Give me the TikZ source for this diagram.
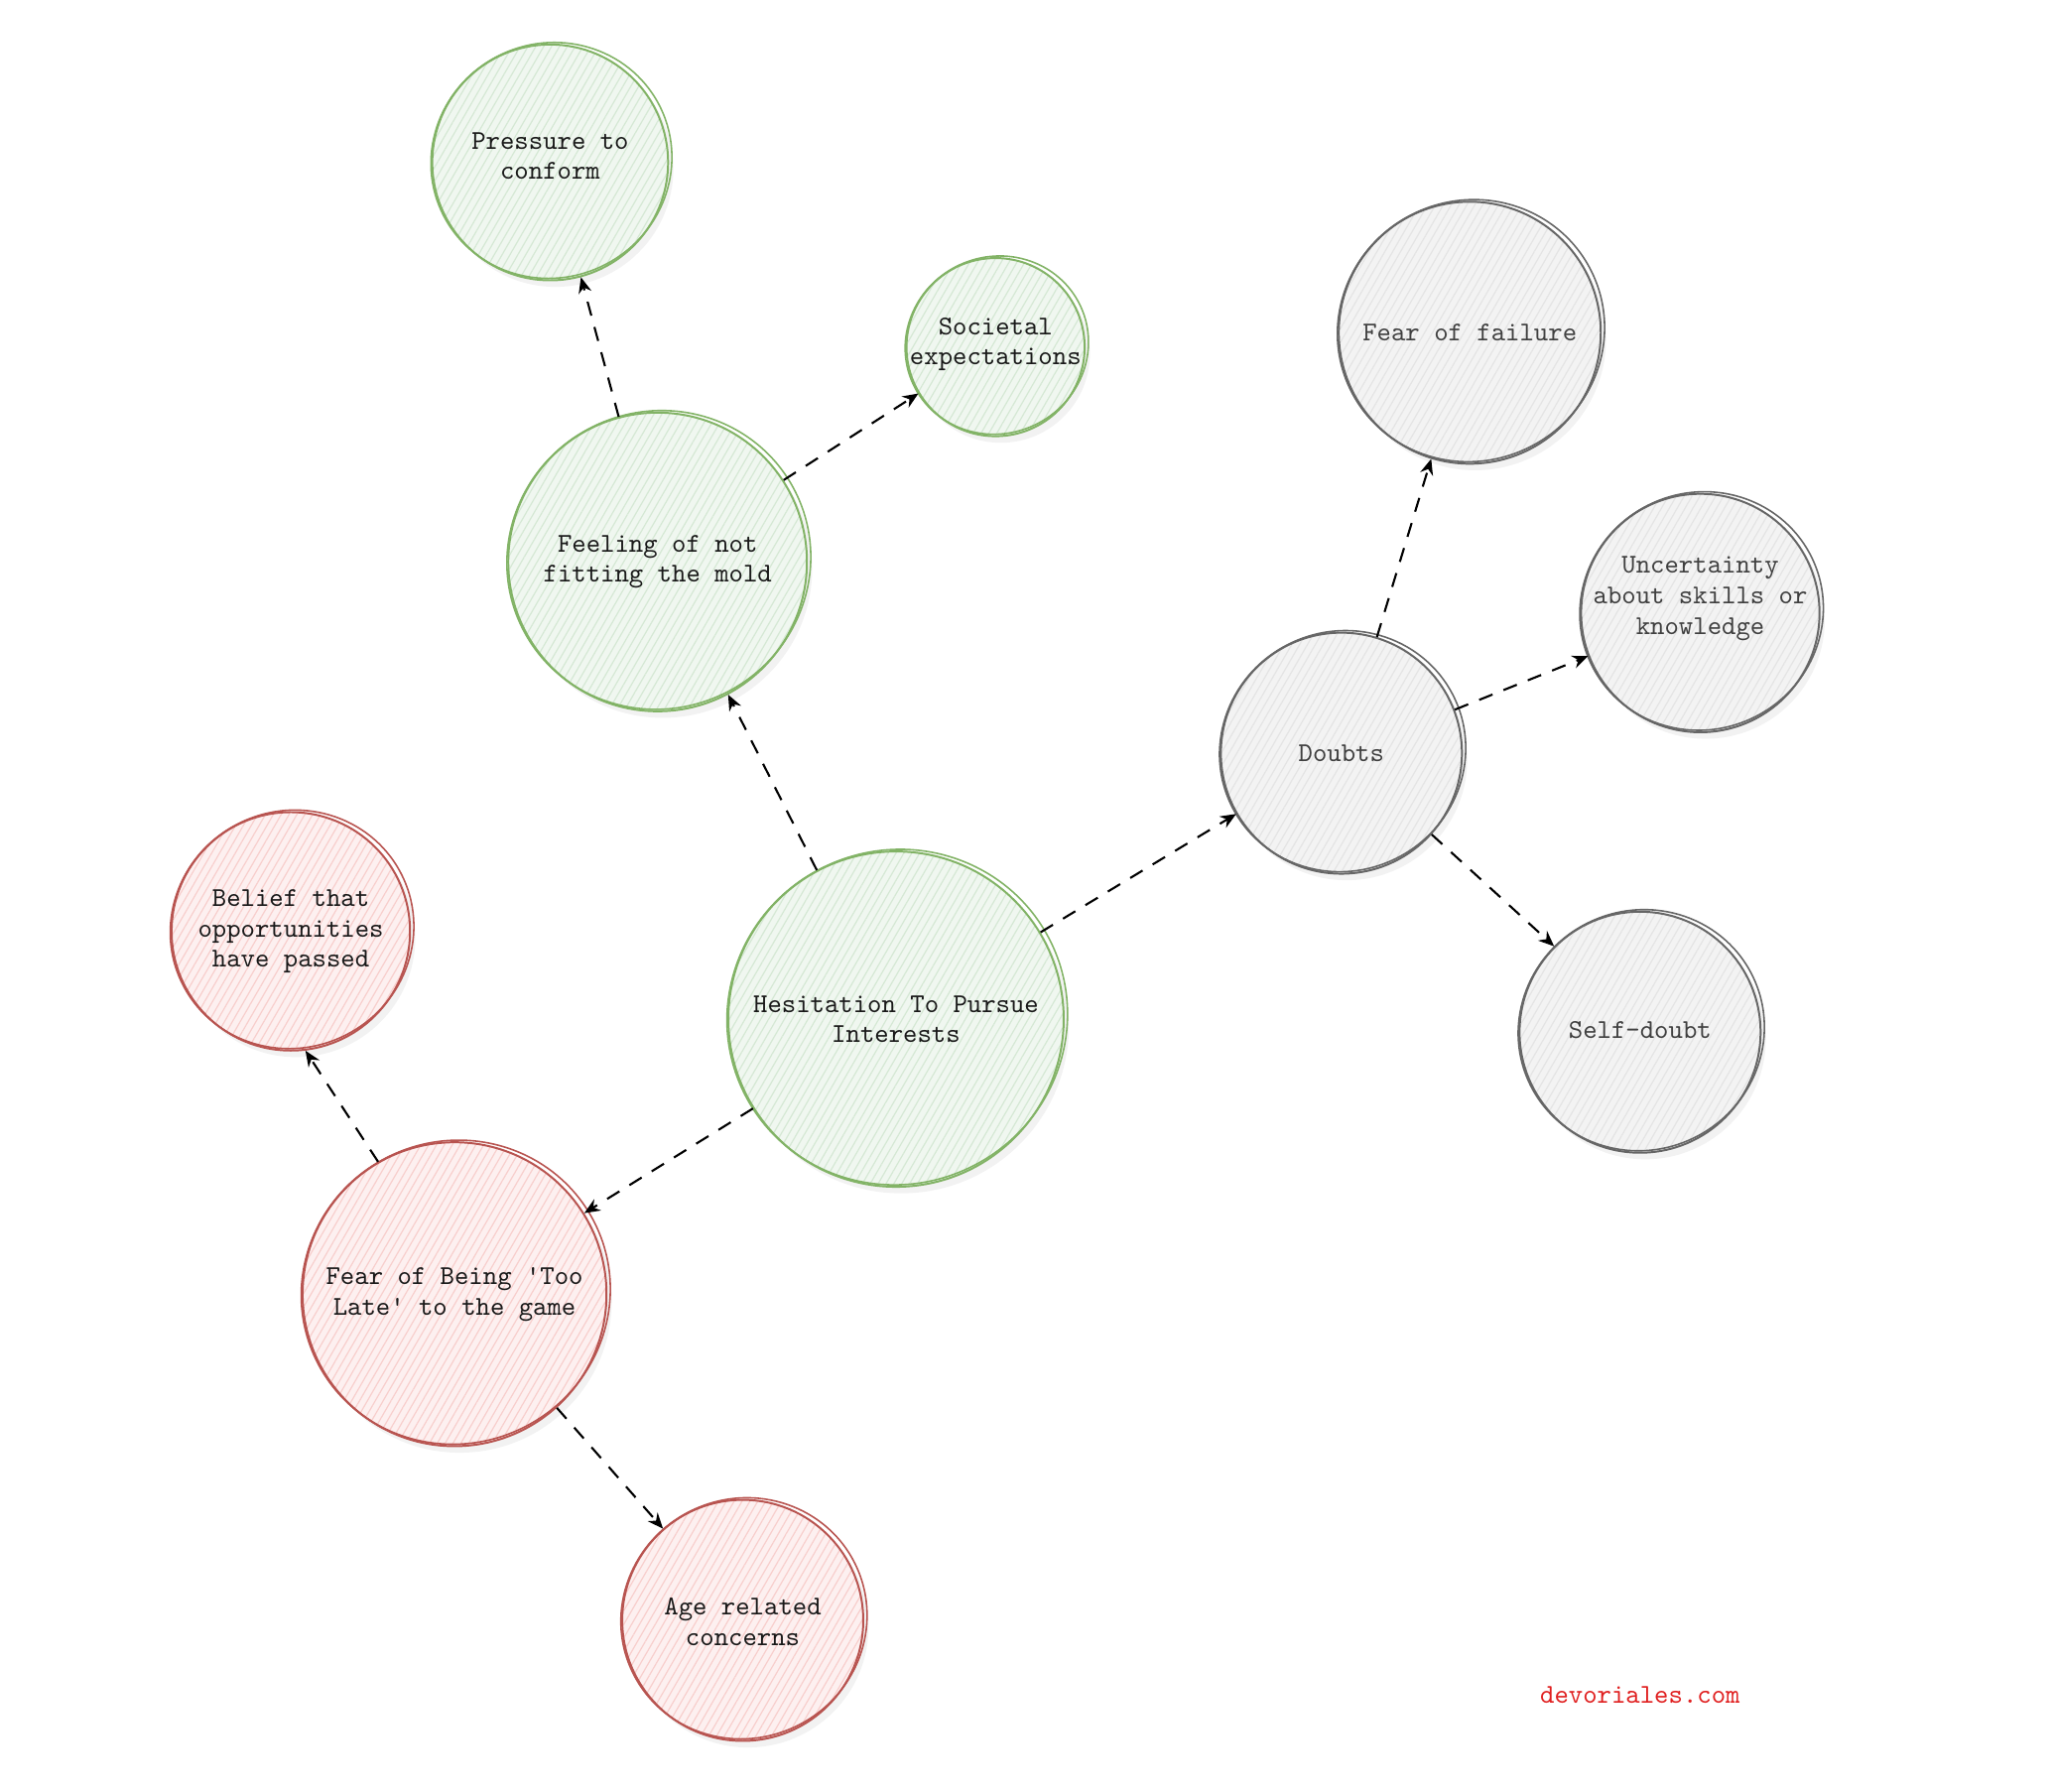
\documentclass[tikz,border=0pt]{standalone}
\usepackage{fontspec}
\usetikzlibrary{patterns.meta,arrows.meta}
\definecolor{gS}{HTML}{82B366}
\definecolor{gF}{HTML}{D5E8D4}
\definecolor{rS}{HTML}{B85450}
\definecolor{rF}{HTML}{F8CECC}
\definecolor{kS}{HTML}{666666}
\definecolor{kF}{HTML}{E4E4E4}
\definecolor{wmred}{HTML}{E02020}
\tikzset{
  bubble/.style={circle, inner sep=0pt},
  btext/.style={align=center, inner sep=0pt, font=\fontsize{10.38}{11.6}\selectfont\ttfamily},
  greenb/.style={bubble, preaction={fill=gF!35},
    pattern={Lines[angle=60,distance=2.6pt,line width=0.45pt]}, pattern color=gF},
  redb/.style={bubble, preaction={fill=rF!30},
    pattern={Lines[angle=60,distance=2.6pt,line width=0.45pt]}, pattern color=rF},
  grayb/.style={bubble, preaction={fill=kF!45},
    pattern={Lines[angle=60,distance=2.6pt,line width=0.45pt]}, pattern color=kF},
  conn/.style={draw=black, line width=0.8pt, dash pattern=on 5.5pt off 4.5pt,
    -{Stealth[length=6pt,width=5pt]}},
}
% name, x, y, r, style, stroke colour, text, text y-offset, text colour
\newcommand\bub[9]{%
  \fill[black!5] (#2+4,#3+5) circle[radius={#4*0.5pt}];
  \node[#5, minimum size={#4*1pt}, draw=#6, line width=0.75pt] (#1) at (#2,#3) {};
  \draw[#6, line width=0.6pt, rotate around={25:(#2,#3)}]
    (#2+1.5,#3-1) ellipse[x radius={(#4+2.5)*0.5pt}, y radius={(#4-0.5)*0.5pt}];
  \node[btext, text=#9] (#1t) at (#2,#3+#8) {#7};
}
\begin{document}
\begin{tikzpicture}[x=0.5pt,y=-0.5pt]
\useasboundingbox (0,0) rectangle (1568,1368);
\bub{press}{420}{124}{90}{greenb}{gS}{Pressure to\\conform}{-5}{black!90}
\bub{soc}{760}{265}{68}{greenb}{gS}{Societal\\expectations}{-2}{black!90}
\bub{feel}{502}{429}{114}{greenb}{gS}{Feeling of not\\fitting the mold}{0}{black!90}
\bub{hes}{684}{778}{128}{greenb}{gS}{Hesitation To Pursue\\Interests}{0}{black!90}
\bub{bel}{222}{711}{91}{redb}{rS}{Belief that\\opportunities\\have passed}{0}{black!90}
\bub{late}{347}{988}{116}{redb}{rS}{Fear of Being 'Too\\Late' to the game}{0}{black!90}
\bub{age}{567}{1237}{92}{redb}{rS}{Age related\\concerns}{1}{black!90}
\bub{doubt}{1024}{575}{92}{grayb}{kS}{Doubts}{0}{black!75}
\bub{fail}{1122}{254}{100}{grayb}{kS}{Fear of failure}{0}{black!75}
\bub{unc}{1298}{468}{91}{grayb}{kS}{Uncertainty\\about skills or\\knowledge}{-11}{black!75}
\bub{self}{1252}{788}{92}{grayb}{kS}{Self-doubt}{-2}{black!75}
\node[btext, text=wmred] (wm) at (1252,1294) {devoriales.com};
\draw[conn] (hes.118) -- (feel.-62);
\draw[conn] (feel.105) -- (press.-75);
\draw[conn] (feel.33) -- (soc.211);
\draw[conn] (hes.31.5) -- (doubt.210.5);
\draw[conn] (hes.212) -- (late.32);
\draw[conn] (late.120) -- (bel.-83);
\draw[conn] (late.-48) -- (age.131.5);
\draw[conn] (doubt.73) -- (fail.-107);
\draw[conn] (doubt.21.4) -- (unc.201);
\draw[conn] (doubt.-42.6) -- (self.135.4);
\end{tikzpicture}
\end{document}
